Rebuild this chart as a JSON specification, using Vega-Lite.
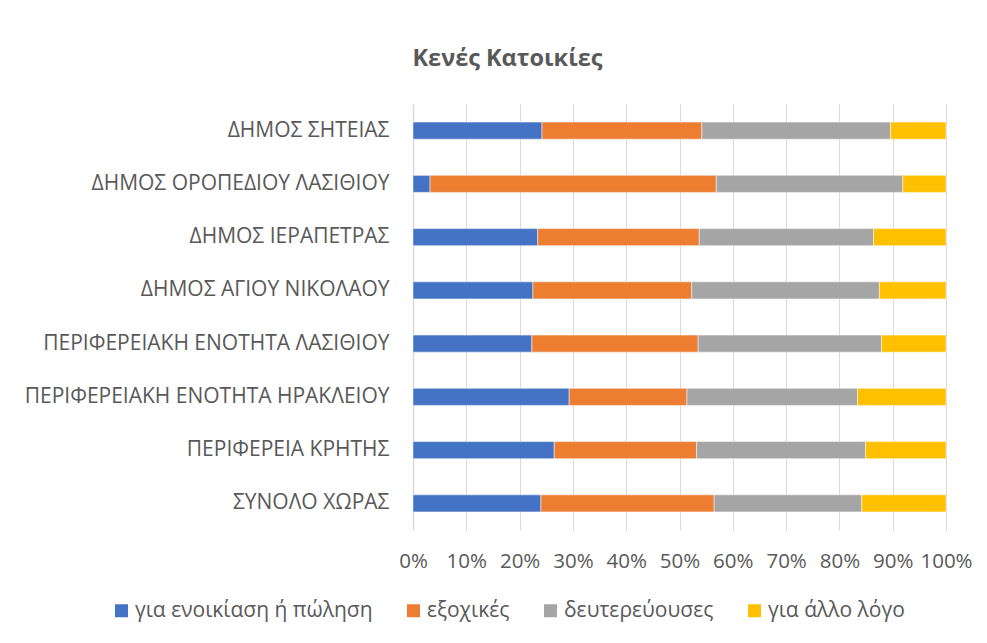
{
  "$schema": "https://vega.github.io/schema/vega-lite/v6.json",
  "autosize": "none",
  "width": 533,
  "height": 426,
  "padding": {"left": 413, "top": 104, "right": 41, "bottom": 113},
  "background": "white",
  "title": {
    "text": "Κενές Κατοικίες",
    "fontSize": 23.5,
    "fontWeight": "bold",
    "color": "#595959",
    "font": "Open Sans",
    "anchor": "middle",
    "dx": -172,
    "offset": 34
  },
  "data": {
    "values": [
      {"area": "ΔΗΜΟΣ ΣΗΤΕΙΑΣ", "type": "για ενοικίαση ή πώληση", "value": 24.2},
      {"area": "ΔΗΜΟΣ ΣΗΤΕΙΑΣ", "type": "εξοχικές", "value": 30.0},
      {"area": "ΔΗΜΟΣ ΣΗΤΕΙΑΣ", "type": "δευτερεύουσες", "value": 35.4},
      {"area": "ΔΗΜΟΣ ΣΗΤΕΙΑΣ", "type": "για άλλο λόγο", "value": 10.4},
      {"area": "ΔΗΜΟΣ ΟΡΟΠΕΔΙΟΥ ΛΑΣΙΘΙΟΥ", "type": "για ενοικίαση ή πώληση", "value": 3.2},
      {"area": "ΔΗΜΟΣ ΟΡΟΠΕΔΙΟΥ ΛΑΣΙΘΙΟΥ", "type": "εξοχικές", "value": 53.7},
      {"area": "ΔΗΜΟΣ ΟΡΟΠΕΔΙΟΥ ΛΑΣΙΘΙΟΥ", "type": "δευτερεύουσες", "value": 35.0},
      {"area": "ΔΗΜΟΣ ΟΡΟΠΕΔΙΟΥ ΛΑΣΙΘΙΟΥ", "type": "για άλλο λόγο", "value": 8.1},
      {"area": "ΔΗΜΟΣ ΙΕΡΑΠΕΤΡΑΣ", "type": "για ενοικίαση ή πώληση", "value": 23.4},
      {"area": "ΔΗΜΟΣ ΙΕΡΑΠΕΤΡΑΣ", "type": "εξοχικές", "value": 30.3},
      {"area": "ΔΗΜΟΣ ΙΕΡΑΠΕΤΡΑΣ", "type": "δευτερεύουσες", "value": 32.7},
      {"area": "ΔΗΜΟΣ ΙΕΡΑΠΕΤΡΑΣ", "type": "για άλλο λόγο", "value": 13.6},
      {"area": "ΔΗΜΟΣ ΑΓΙΟΥ ΝΙΚΟΛΑΟΥ", "type": "για ενοικίαση ή πώληση", "value": 22.5},
      {"area": "ΔΗΜΟΣ ΑΓΙΟΥ ΝΙΚΟΛΑΟΥ", "type": "εξοχικές", "value": 29.8},
      {"area": "ΔΗΜΟΣ ΑΓΙΟΥ ΝΙΚΟΛΑΟΥ", "type": "δευτερεύουσες", "value": 35.2},
      {"area": "ΔΗΜΟΣ ΑΓΙΟΥ ΝΙΚΟΛΑΟΥ", "type": "για άλλο λόγο", "value": 12.5},
      {"area": "ΠΕΡΙΦΕΡΕΙΑΚΗ ΕΝΟΤΗΤΑ ΛΑΣΙΘΙΟΥ", "type": "για ενοικίαση ή πώληση", "value": 22.3},
      {"area": "ΠΕΡΙΦΕΡΕΙΑΚΗ ΕΝΟΤΗΤΑ ΛΑΣΙΘΙΟΥ", "type": "εξοχικές", "value": 31.2},
      {"area": "ΠΕΡΙΦΕΡΕΙΑΚΗ ΕΝΟΤΗΤΑ ΛΑΣΙΘΙΟΥ", "type": "δευτερεύουσες", "value": 34.4},
      {"area": "ΠΕΡΙΦΕΡΕΙΑΚΗ ΕΝΟΤΗΤΑ ΛΑΣΙΘΙΟΥ", "type": "για άλλο λόγο", "value": 12.1},
      {"area": "ΠΕΡΙΦΕΡΕΙΑΚΗ ΕΝΟΤΗΤΑ ΗΡΑΚΛΕΙΟΥ", "type": "για ενοικίαση ή πώληση", "value": 29.3},
      {"area": "ΠΕΡΙΦΕΡΕΙΑΚΗ ΕΝΟΤΗΤΑ ΗΡΑΚΛΕΙΟΥ", "type": "εξοχικές", "value": 22.1},
      {"area": "ΠΕΡΙΦΕΡΕΙΑΚΗ ΕΝΟΤΗΤΑ ΗΡΑΚΛΕΙΟΥ", "type": "δευτερεύουσες", "value": 32.0},
      {"area": "ΠΕΡΙΦΕΡΕΙΑΚΗ ΕΝΟΤΗΤΑ ΗΡΑΚΛΕΙΟΥ", "type": "για άλλο λόγο", "value": 16.6},
      {"area": "ΠΕΡΙΦΕΡΕΙΑ ΚΡΗΤΗΣ", "type": "για ενοικίαση ή πώληση", "value": 26.5},
      {"area": "ΠΕΡΙΦΕΡΕΙΑ ΚΡΗΤΗΣ", "type": "εξοχικές", "value": 26.7},
      {"area": "ΠΕΡΙΦΕΡΕΙΑ ΚΡΗΤΗΣ", "type": "δευτερεύουσες", "value": 31.7},
      {"area": "ΠΕΡΙΦΕΡΕΙΑ ΚΡΗΤΗΣ", "type": "για άλλο λόγο", "value": 15.1},
      {"area": "ΣΥΝΟΛΟ ΧΩΡΑΣ", "type": "για ενοικίαση ή πώληση", "value": 24.0},
      {"area": "ΣΥΝΟΛΟ ΧΩΡΑΣ", "type": "εξοχικές", "value": 32.5},
      {"area": "ΣΥΝΟΛΟ ΧΩΡΑΣ", "type": "δευτερεύουσες", "value": 27.7},
      {"area": "ΣΥΝΟΛΟ ΧΩΡΑΣ", "type": "για άλλο λόγο", "value": 15.8}
    ]
  },
  "transform": [
    {"calculate": "indexof(['για ενοικίαση ή πώληση', 'εξοχικές', 'δευτερεύουσες', 'για άλλο λόγο'], datum.type)", "as": "stackOrder"}
  ],
  "mark": {"type": "bar", "stroke": "white", "strokeWidth": 0.5},
  "encoding": {
    "y": {
      "field": "area",
      "type": "nominal",
      "sort": ["ΔΗΜΟΣ ΣΗΤΕΙΑΣ", "ΔΗΜΟΣ ΟΡΟΠΕΔΙΟΥ ΛΑΣΙΘΙΟΥ", "ΔΗΜΟΣ ΙΕΡΑΠΕΤΡΑΣ", "ΔΗΜΟΣ ΑΓΙΟΥ ΝΙΚΟΛΑΟΥ", "ΠΕΡΙΦΕΡΕΙΑΚΗ ΕΝΟΤΗΤΑ ΛΑΣΙΘΙΟΥ", "ΠΕΡΙΦΕΡΕΙΑΚΗ ΕΝΟΤΗΤΑ ΗΡΑΚΛΕΙΟΥ", "ΠΕΡΙΦΕΡΕΙΑ ΚΡΗΤΗΣ", "ΣΥΝΟΛΟ ΧΩΡΑΣ"],
      "scale": {"paddingInner": 0.68, "paddingOuter": 0.34},
      "axis": {
        "title": null,
        "ticks": false,
        "grid": false,
        "domain": true,
        "domainColor": "#d9d9d9",
        "domainWidth": 1.5,
        "labelFont": "Open Sans",
        "labelFontSize": 21,
        "labelColor": "#595959",
        "labelPadding": 24,
        "labelLimit": 500
      }
    },
    "x": {
      "field": "value",
      "type": "quantitative",
      "stack": "normalize",
      "scale": {"domain": [0, 1], "nice": false},
      "axis": {
        "title": null,
        "format": ".0%",
        "values": [0, 0.1, 0.2, 0.3, 0.4, 0.5, 0.6, 0.7, 0.8, 0.9, 1],
        "ticks": false,
        "domain": false,
        "grid": true,
        "gridColor": "#d9d9d9",
        "gridWidth": 1,
        "labelFont": "Open Sans",
        "labelFontSize": 20.5,
        "labelColor": "#595959",
        "labelPadding": 21,
        "labelFlush": false
      }
    },
    "color": {
      "field": "type",
      "type": "nominal",
      "sort": ["για ενοικίαση ή πώληση", "εξοχικές", "δευτερεύουσες", "για άλλο λόγο"],
      "scale": {
        "domain": ["για ενοικίαση ή πώληση", "εξοχικές", "δευτερεύουσες", "για άλλο λόγο"],
        "range": ["#4472C4", "#ED7D31", "#A5A5A5", "#FFC000"]
      },
      "legend": {
        "title": null,
        "orient": "none",
        "direction": "horizontal",
        "legendX": -302,
        "legendY": 496,
        "symbolType": "square",
        "symbolSize": 169,
        "symbolStrokeWidth": 0,
        "labelFont": "Open Sans",
        "labelFontSize": 21,
        "labelColor": "#595959",
        "labelLimit": 400,
        "columnPadding": 30,
        "symbolOffset": 0,
        "labelOffset": 3
      }
    },
    "order": {"field": "stackOrder", "type": "quantitative"}
  },
  "config": {"view": {"stroke": null}}
}
